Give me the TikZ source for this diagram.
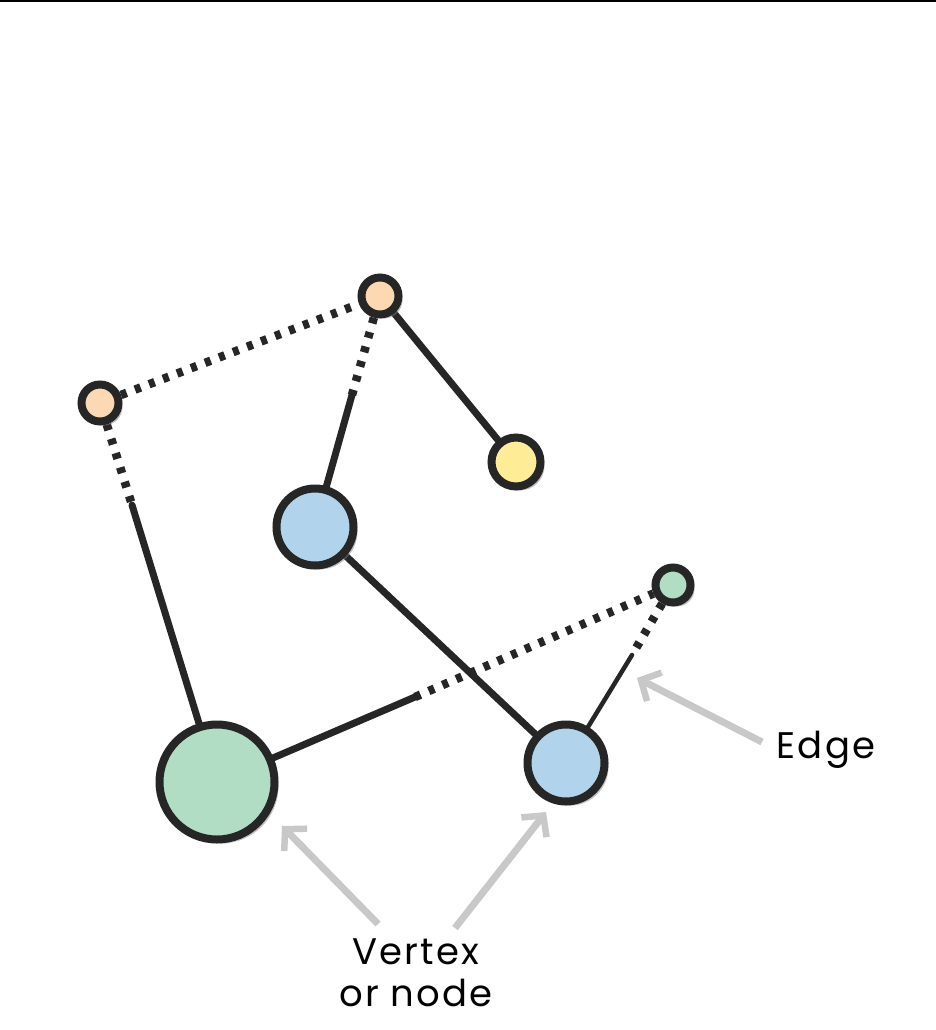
\documentclass[tikz,border=0pt]{standalone}
\usepackage{fontspec}
\setmainfont[LetterSpace=6]{Poppins}
\usetikzlibrary{arrows.meta,shadows,backgrounds}
\definecolor{cOrange}{HTML}{FDD9B3}
\definecolor{cYellow}{HTML}{FFEC97}
\definecolor{cBlue}{HTML}{B1D3EB}
\definecolor{cGreen}{HTML}{B1DDC5}
\definecolor{cInk}{HTML}{262626}
\definecolor{cPointer}{HTML}{C8C8C8}
\tikzset{
  vertex/.style={circle, draw=cInk, line width=8pt, inner sep=0pt,
    drop shadow={opacity=0.5, shadow xshift=4pt, shadow yshift=-4pt}},
  solidedge/.style={draw=cInk, line width=7pt, line cap=round},
  dotedge/.style={draw=cInk, line width=8.5pt, dash pattern=on 6pt off 9pt},
  pointer/.style={draw=cPointer, line width=7pt,
    -{Straight Barb[length=15pt,width=32pt,line width=6.5pt]}},
  lbl/.style={font=\fontsize{37}{42}\selectfont, text=black, align=center}
}
\begin{document}
\begin{tikzpicture}[x=1pt,y=-1pt]
\useasboundingbox (0,0) rectangle (936,1030);
\fill[black] (0,0) rectangle (936,2);
% vertices
\node[vertex, fill=cOrange, minimum size=37pt] (A) at (380,296) {};
\node[vertex, fill=cOrange, minimum size=37pt] (B) at (100,403) {};
\node[vertex, fill=cYellow, minimum size=49pt] (C) at (516,462) {};
\node[vertex, fill=cBlue,   minimum size=77pt] (D) at (315,527) {};
\node[vertex, fill=cGreen,  minimum size=35pt] (E) at (673,585) {};
\node[vertex, fill=cGreen,  minimum size=115pt] (F) at (217,782) {};
\node[vertex, fill=cBlue,   minimum size=77pt] (G) at (566,763) {};
% break points of mixed edges
\coordinate (ad) at (352,395);
\coordinate (bf) at (132,505);
\coordinate (fe) at (415,697);
\coordinate (eg) at (632,655);
% pointer ends
\coordinate (p1s) at (378,924);
\coordinate (p1e) at (282,826);
\coordinate (p2s) at (455,928);
\coordinate (p2e) at (546,812);
\coordinate (p3s) at (762,742);
\coordinate (p3e) at (637,678);
\begin{scope}[on background layer]
  \draw[dotedge] (B) -- (A);
  \draw[solidedge] (A) -- (C);
  \draw[dotedge] (A) -- (ad);
  \draw[solidedge] (ad) -- (D);
  \draw[dotedge] (B) -- (bf);
  \draw[solidedge] (bf) -- (F);
  \draw[solidedge] (D) -- (G);
  \draw[solidedge] (F) -- (fe);
  \draw[dotedge] (fe) -- (E);
  \draw[dotedge] (E) -- (eg);
  \draw[solidedge, line width=4.5pt] (eg) -- (G);
\end{scope}
% pointers
\draw[pointer] (p1s) -- (p1e);
\draw[pointer] (p2s) -- (p2e);
\draw[pointer] (p3s) -- (p3e);
% labels
\node[lbl] (edge) at (826,750) {Edge};
\node[lbl] (vert) at (416,973) {Vertex\\or node};
\end{tikzpicture}
\end{document}
